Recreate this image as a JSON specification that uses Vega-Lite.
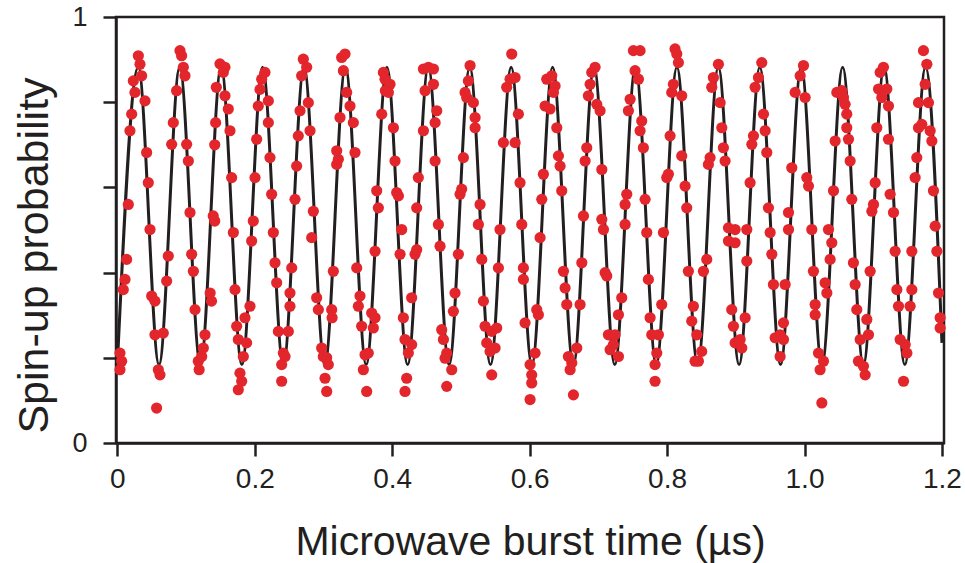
{
 "$schema": "https://vega.github.io/schema/vega-lite/v6.json",
 "width": 828,
 "height": 426,
 "autosize": {"type": "none"},
 "padding": {"left": 116, "top": 17, "right": 21, "bottom": 120},
 "background": "white",
 "config": {
  "axis": {"labelFont": "Liberation Sans", "titleFont": "Liberation Sans", "titleFontWeight": "normal", "domainColor": "#231f20", "tickColor": "#231f20", "labelColor": "#231f20", "titleColor": "#231f20", "grid": false, "domainWidth": 2.5, "tickWidth": 2.5, "labelFlush": false, "labelBound": false, "labelOverlap": false},
  "view": {"stroke": "#231f20", "strokeWidth": 2.5}
 },
 "layer": [
  {
   "data": {"name": "fit"},
   "mark": {"type": "line", "interpolate": "monotone", "color": "#231f20", "strokeWidth": 3},
   "encoding": {
    "x": {"field": "t", "type": "quantitative", "scale": {"domain": [-0.002, 1.203], "nice": false, "zero": false},
     "axis": {"title": "Microwave burst time (µs)", "values": [0, 0.2, 0.4, 0.6, 0.8, 1.0, 1.2], "labelExpr": "datum.value == 0 ? '0' : format(datum.value, '.1f')", "tickSize": 13, "labelFontSize": 28, "labelPadding": 9, "titleFontSize": 41, "titleY": 111, "titleBaseline": "alphabetic"}},
    "y": {"field": "p", "type": "quantitative", "scale": {"domain": [0, 1], "nice": false, "zero": false},
     "axis": {"title": "Spin-up probability", "values": [0, 0.2, 0.4, 0.6, 0.8, 1], "labelExpr": "datum.value == 0 ? '0' : (datum.value == 1 ? '1' : '')", "tickSize": 13, "labelFontSize": 27, "labelPadding": 16, "titleFontSize": 43, "titleX": -82, "titleY": 238, "titleAngle": -90, "titleAlign": "center", "titleBaseline": "middle"}}
   }
  },
  {
   "data": {"name": "dots"},
   "mark": {"type": "circle", "color": "#e3262b", "size": 125, "opacity": 1},
   "encoding": {
    "x": {"field": "t", "type": "quantitative"},
    "y": {"field": "p", "type": "quantitative"}
   }
  }
 ],
 "datasets": {
  "fit": [
   {"t": 0, "p": 0.184}, {"t": 0.0304, "p": 0.882}, {"t": 0.0606, "p": 0.184}, {"t": 0.0907, "p": 0.882}, {"t": 0.1209, "p": 0.184},
   {"t": 0.151, "p": 0.882}, {"t": 0.1812, "p": 0.184}, {"t": 0.2113, "p": 0.882}, {"t": 0.2415, "p": 0.184}, {"t": 0.2716, "p": 0.882},
   {"t": 0.3018, "p": 0.184}, {"t": 0.3319, "p": 0.882}, {"t": 0.3621, "p": 0.184}, {"t": 0.3922, "p": 0.882}, {"t": 0.4224, "p": 0.184},
   {"t": 0.4525, "p": 0.882}, {"t": 0.4827, "p": 0.184}, {"t": 0.5128, "p": 0.882}, {"t": 0.543, "p": 0.184}, {"t": 0.5731, "p": 0.882},
   {"t": 0.6033, "p": 0.184}, {"t": 0.6334, "p": 0.882}, {"t": 0.6636, "p": 0.184}, {"t": 0.6937, "p": 0.882}, {"t": 0.7239, "p": 0.184},
   {"t": 0.754, "p": 0.882}, {"t": 0.7842, "p": 0.184}, {"t": 0.8143, "p": 0.882}, {"t": 0.8445, "p": 0.184}, {"t": 0.8746, "p": 0.882},
   {"t": 0.9048, "p": 0.184}, {"t": 0.9349, "p": 0.882}, {"t": 0.9651, "p": 0.184}, {"t": 0.9952, "p": 0.882}, {"t": 1.0254, "p": 0.184},
   {"t": 1.0555, "p": 0.882}, {"t": 1.0857, "p": 0.184}, {"t": 1.1158, "p": 0.882}, {"t": 1.146, "p": 0.184}, {"t": 1.1761, "p": 0.882},
   {"t": 1.2, "p": 0.235}
  ],
  "dots": [
   {"t": 0.0038, "p": 0.211}, {"t": 0.0062, "p": 0.192}, {"t": 0.0038, "p": 0.172}, {"t": 0.0086, "p": 0.36}, {"t": 0.0111, "p": 0.384},
   {"t": 0.0135, "p": 0.431}, {"t": 0.0159, "p": 0.56}, {"t": 0.0183, "p": 0.733}, {"t": 0.0208, "p": 0.772}, {"t": 0.0232, "p": 0.85},
   {"t": 0.0256, "p": 0.823}, {"t": 0.0305, "p": 0.909}, {"t": 0.0329, "p": 0.889}, {"t": 0.0353, "p": 0.862}, {"t": 0.0402, "p": 0.803},
   {"t": 0.0426, "p": 0.682}, {"t": 0.045, "p": 0.611}, {"t": 0.0475, "p": 0.501}, {"t": 0.0499, "p": 0.345}, {"t": 0.0547, "p": 0.333},
   {"t": 0.0547, "p": 0.254}, {"t": 0.0596, "p": 0.172}, {"t": 0.062, "p": 0.16}, {"t": 0.0571, "p": 0.082}, {"t": 0.0668, "p": 0.258},
   {"t": 0.0717, "p": 0.38}, {"t": 0.0741, "p": 0.439}, {"t": 0.079, "p": 0.701}, {"t": 0.0814, "p": 0.752}, {"t": 0.0862, "p": 0.827},
   {"t": 0.0911, "p": 0.921}, {"t": 0.0935, "p": 0.909}, {"t": 0.096, "p": 0.882}, {"t": 0.0984, "p": 0.862}, {"t": 0.1008, "p": 0.701},
   {"t": 0.1033, "p": 0.662}, {"t": 0.1057, "p": 0.541}, {"t": 0.1081, "p": 0.443}, {"t": 0.1106, "p": 0.403}, {"t": 0.113, "p": 0.313},
   {"t": 0.1178, "p": 0.192}, {"t": 0.119, "p": 0.172}, {"t": 0.1227, "p": 0.203}, {"t": 0.1251, "p": 0.223}, {"t": 0.1275, "p": 0.254},
   {"t": 0.135, "p": 0.352}, {"t": 0.137, "p": 0.333}, {"t": 0.1395, "p": 0.533}, {"t": 0.1417, "p": 0.521}, {"t": 0.1417, "p": 0.7},
   {"t": 0.143, "p": 0.752}, {"t": 0.144, "p": 0.835}, {"t": 0.1493, "p": 0.89}, {"t": 0.1566, "p": 0.882}, {"t": 0.1541, "p": 0.87},
   {"t": 0.1566, "p": 0.815}, {"t": 0.1614, "p": 0.784}, {"t": 0.1639, "p": 0.733}, {"t": 0.1663, "p": 0.623}, {"t": 0.1688, "p": 0.494},
   {"t": 0.1712, "p": 0.36}, {"t": 0.1736, "p": 0.274}, {"t": 0.176, "p": 0.243}, {"t": 0.1784, "p": 0.164}, {"t": 0.1809, "p": 0.145},
   {"t": 0.176, "p": 0.125}, {"t": 0.1833, "p": 0.203}, {"t": 0.1881, "p": 0.235}, {"t": 0.1857, "p": 0.294}, {"t": 0.193, "p": 0.321},
   {"t": 0.1954, "p": 0.474}, {"t": 0.1978, "p": 0.521}, {"t": 0.2003, "p": 0.623}, {"t": 0.2027, "p": 0.713}, {"t": 0.2051, "p": 0.791},
   {"t": 0.2076, "p": 0.83}, {"t": 0.21, "p": 0.854}, {"t": 0.2148, "p": 0.87}, {"t": 0.2197, "p": 0.803}, {"t": 0.2197, "p": 0.752},
   {"t": 0.2221, "p": 0.67}, {"t": 0.2245, "p": 0.584}, {"t": 0.227, "p": 0.494}, {"t": 0.2294, "p": 0.423}, {"t": 0.2318, "p": 0.376},
   {"t": 0.2343, "p": 0.262}, {"t": 0.2488, "p": 0.262}, {"t": 0.2415, "p": 0.211}, {"t": 0.244, "p": 0.203}, {"t": 0.2391, "p": 0.184},
   {"t": 0.2391, "p": 0.145}, {"t": 0.2512, "p": 0.352}, {"t": 0.2512, "p": 0.321}, {"t": 0.2537, "p": 0.411}, {"t": 0.2585, "p": 0.572},
   {"t": 0.2609, "p": 0.65}, {"t": 0.2633, "p": 0.721}, {"t": 0.2658, "p": 0.78}, {"t": 0.2682, "p": 0.862}, {"t": 0.2706, "p": 0.901},
   {"t": 0.2755, "p": 0.882}, {"t": 0.2779, "p": 0.799}, {"t": 0.2804, "p": 0.733}, {"t": 0.2852, "p": 0.544}, {"t": 0.2828, "p": 0.482},
   {"t": 0.29, "p": 0.341}, {"t": 0.2925, "p": 0.313}, {"t": 0.2973, "p": 0.223}, {"t": 0.2997, "p": 0.203}, {"t": 0.3046, "p": 0.2},
   {"t": 0.307, "p": 0.184}, {"t": 0.3022, "p": 0.152}, {"t": 0.3046, "p": 0.121}, {"t": 0.3119, "p": 0.313}, {"t": 0.3125, "p": 0.294},
   {"t": 0.3143, "p": 0.403}, {"t": 0.3192, "p": 0.654}, {"t": 0.3216, "p": 0.666}, {"t": 0.3192, "p": 0.686}, {"t": 0.324, "p": 0.764},
   {"t": 0.3264, "p": 0.905}, {"t": 0.3313, "p": 0.913}, {"t": 0.3289, "p": 0.874}, {"t": 0.3337, "p": 0.823}, {"t": 0.3386, "p": 0.791},
   {"t": 0.3434, "p": 0.752}, {"t": 0.3458, "p": 0.682}, {"t": 0.3483, "p": 0.411}, {"t": 0.3531, "p": 0.345}, {"t": 0.3507, "p": 0.321},
   {"t": 0.3555, "p": 0.274}, {"t": 0.3604, "p": 0.207}, {"t": 0.3652, "p": 0.211}, {"t": 0.358, "p": 0.172}, {"t": 0.3628, "p": 0.121},
   {"t": 0.3701, "p": 0.305}, {"t": 0.375, "p": 0.294}, {"t": 0.3725, "p": 0.27}, {"t": 0.375, "p": 0.45}, {"t": 0.3798, "p": 0.552},
   {"t": 0.3774, "p": 0.592}, {"t": 0.3847, "p": 0.772}, {"t": 0.3871, "p": 0.87}, {"t": 0.3895, "p": 0.854}, {"t": 0.39, "p": 0.827},
   {"t": 0.3968, "p": 0.842}, {"t": 0.3944, "p": 0.823}, {"t": 0.4017, "p": 0.74}, {"t": 0.4041, "p": 0.662}, {"t": 0.4065, "p": 0.588},
   {"t": 0.409, "p": 0.58}, {"t": 0.4138, "p": 0.501}, {"t": 0.4114, "p": 0.443}, {"t": 0.4162, "p": 0.294}, {"t": 0.4186, "p": 0.243},
   {"t": 0.4235, "p": 0.211}, {"t": 0.421, "p": 0.152}, {"t": 0.4186, "p": 0.121}, {"t": 0.4283, "p": 0.231}, {"t": 0.4283, "p": 0.341},
   {"t": 0.4332, "p": 0.443}, {"t": 0.4356, "p": 0.454}, {"t": 0.4356, "p": 0.552}, {"t": 0.438, "p": 0.623},
   {"t": 0.4454, "p": 0.733}, {"t": 0.4454, "p": 0.878}, {"t": 0.4527, "p": 0.882}, {"t": 0.46, "p": 0.878}, {"t": 0.4478, "p": 0.827},
   {"t": 0.46, "p": 0.842}, {"t": 0.4648, "p": 0.78}, {"t": 0.4624, "p": 0.752}, {"t": 0.4624, "p": 0.662}, {"t": 0.4672, "p": 0.513},
   {"t": 0.4696, "p": 0.462}, {"t": 0.472, "p": 0.266}, {"t": 0.4745, "p": 0.243}, {"t": 0.4793, "p": 0.211}, {"t": 0.4866, "p": 0.172},
   {"t": 0.4769, "p": 0.199}, {"t": 0.4793, "p": 0.133}, {"t": 0.489, "p": 0.309}, {"t": 0.4914, "p": 0.352}, {"t": 0.4963, "p": 0.443},
   {"t": 0.4987, "p": 0.584}, {"t": 0.5011, "p": 0.596}, {"t": 0.5036, "p": 0.67}, {"t": 0.5084, "p": 0.811}, {"t": 0.506, "p": 0.823},
   {"t": 0.5108, "p": 0.85}, {"t": 0.5133, "p": 0.886}, {"t": 0.5181, "p": 0.799}, {"t": 0.5206, "p": 0.764}, {"t": 0.5206, "p": 0.74},
   {"t": 0.5278, "p": 0.56}, {"t": 0.5254, "p": 0.513}, {"t": 0.5303, "p": 0.431}, {"t": 0.5327, "p": 0.333}, {"t": 0.5351, "p": 0.274},
   {"t": 0.5375, "p": 0.235}, {"t": 0.5424, "p": 0.215}, {"t": 0.5448, "p": 0.262}, {"t": 0.5521, "p": 0.27}, {"t": 0.5497, "p": 0.223},
   {"t": 0.5448, "p": 0.16}, {"t": 0.5545, "p": 0.411}, {"t": 0.5569, "p": 0.501}, {"t": 0.5618, "p": 0.705}, {"t": 0.5666, "p": 0.835},
   {"t": 0.5715, "p": 0.854}, {"t": 0.5788, "p": 0.858}, {"t": 0.5739, "p": 0.913}, {"t": 0.5788, "p": 0.705}, {"t": 0.5836, "p": 0.772},
   {"t": 0.586, "p": 0.611}, {"t": 0.5885, "p": 0.513}, {"t": 0.5909, "p": 0.411}, {"t": 0.5909, "p": 0.384}, {"t": 0.5933, "p": 0.282},
   {"t": 0.6006, "p": 0.184}, {"t": 0.603, "p": 0.16}, {"t": 0.603, "p": 0.141}, {"t": 0.6006, "p": 0.102}, {"t": 0.6079, "p": 0.211},
   {"t": 0.6103, "p": 0.313}, {"t": 0.6127, "p": 0.301}, {"t": 0.6152, "p": 0.482}, {"t": 0.6176, "p": 0.572}, {"t": 0.62, "p": 0.631},
   {"t": 0.6225, "p": 0.791}, {"t": 0.6249, "p": 0.854}, {"t": 0.6322, "p": 0.862}, {"t": 0.637, "p": 0.838}, {"t": 0.6346, "p": 0.823},
   {"t": 0.6297, "p": 0.784}, {"t": 0.6395, "p": 0.74}, {"t": 0.6419, "p": 0.674}, {"t": 0.6443, "p": 0.65}, {"t": 0.6467, "p": 0.592},
   {"t": 0.6492, "p": 0.403}, {"t": 0.6516, "p": 0.364}, {"t": 0.654, "p": 0.325}, {"t": 0.6564, "p": 0.203}, {"t": 0.6613, "p": 0.188},
   {"t": 0.6589, "p": 0.172}, {"t": 0.6686, "p": 0.223}, {"t": 0.6637, "p": 0.113}, {"t": 0.6734, "p": 0.325}, {"t": 0.6759, "p": 0.423},
   {"t": 0.6783, "p": 0.533}, {"t": 0.6807, "p": 0.662}, {"t": 0.6831, "p": 0.693}, {"t": 0.6855, "p": 0.815}, {"t": 0.688, "p": 0.842},
   {"t": 0.6904, "p": 0.87}, {"t": 0.6952, "p": 0.882}, {"t": 0.6977, "p": 0.795}, {"t": 0.7025, "p": 0.78}, {"t": 0.705, "p": 0.642},
   {"t": 0.705, "p": 0.525}, {"t": 0.7074, "p": 0.501}, {"t": 0.7098, "p": 0.4}, {"t": 0.7122, "p": 0.392}, {"t": 0.7146, "p": 0.254},
   {"t": 0.7243, "p": 0.254}, {"t": 0.7171, "p": 0.219}, {"t": 0.7292, "p": 0.203}, {"t": 0.7219, "p": 0.231}, {"t": 0.7292, "p": 0.301},
   {"t": 0.734, "p": 0.341}, {"t": 0.7389, "p": 0.513}, {"t": 0.7389, "p": 0.56}, {"t": 0.7413, "p": 0.584}, {"t": 0.7437, "p": 0.78},
   {"t": 0.7462, "p": 0.807},
   {"t": 0.751, "p": 0.921}, {"t": 0.7607, "p": 0.921}, {"t": 0.7534, "p": 0.874}, {"t": 0.7583, "p": 0.854}, {"t": 0.7631, "p": 0.756},
   {"t": 0.7607, "p": 0.733}, {"t": 0.7655, "p": 0.693}, {"t": 0.768, "p": 0.572}, {"t": 0.7704, "p": 0.494}, {"t": 0.7728, "p": 0.384},
   {"t": 0.7753, "p": 0.294}, {"t": 0.7777, "p": 0.254}, {"t": 0.7874, "p": 0.254}, {"t": 0.785, "p": 0.211}, {"t": 0.7825, "p": 0.184},
   {"t": 0.7825, "p": 0.145}, {"t": 0.7922, "p": 0.325}, {"t": 0.7947, "p": 0.494}, {"t": 0.7995, "p": 0.623}, {"t": 0.8019, "p": 0.631},
   {"t": 0.8044, "p": 0.721}, {"t": 0.8068, "p": 0.823}, {"t": 0.8092, "p": 0.842}, {"t": 0.8116, "p": 0.925}, {"t": 0.8141, "p": 0.913},
   {"t": 0.8165, "p": 0.893}, {"t": 0.8213, "p": 0.815}, {"t": 0.8213, "p": 0.674}, {"t": 0.8262, "p": 0.603}, {"t": 0.8286, "p": 0.552},
   {"t": 0.831, "p": 0.403}, {"t": 0.8383, "p": 0.321}, {"t": 0.8359, "p": 0.286}, {"t": 0.8432, "p": 0.254}, {"t": 0.8407, "p": 0.192},
   {"t": 0.8504, "p": 0.215}, {"t": 0.8456, "p": 0.192}, {"t": 0.8529, "p": 0.403}, {"t": 0.8577, "p": 0.431}, {"t": 0.8601, "p": 0.654},
   {"t": 0.8626, "p": 0.67}, {"t": 0.865, "p": 0.835}, {"t": 0.8674, "p": 0.858}, {"t": 0.8747, "p": 0.889}, {"t": 0.8772, "p": 0.799},
   {"t": 0.8796, "p": 0.74}, {"t": 0.882, "p": 0.693}, {"t": 0.8844, "p": 0.662}, {"t": 0.8893, "p": 0.505}, {"t": 0.8893, "p": 0.474},
   {"t": 0.8941, "p": 0.313}, {"t": 0.8966, "p": 0.274}, {"t": 0.899, "p": 0.235},
   {"t": 0.899, "p": 0.501}, {"t": 0.899, "p": 0.47}, {"t": 0.9063, "p": 0.243}, {"t": 0.9087, "p": 0.223}, {"t": 0.9136, "p": 0.294},
   {"t": 0.916, "p": 0.427}, {"t": 0.916, "p": 0.501}, {"t": 0.9208, "p": 0.611}, {"t": 0.9233, "p": 0.701}, {"t": 0.9257, "p": 0.721},
   {"t": 0.9281, "p": 0.835}, {"t": 0.933, "p": 0.858}, {"t": 0.9378, "p": 0.893}, {"t": 0.9403, "p": 0.772}, {"t": 0.9427, "p": 0.733},
   {"t": 0.9451, "p": 0.682}, {"t": 0.9475, "p": 0.552}, {"t": 0.95, "p": 0.494}, {"t": 0.9524, "p": 0.443}, {"t": 0.9548, "p": 0.372},
   {"t": 0.9718, "p": 0.372}, {"t": 0.9573, "p": 0.247}, {"t": 0.9645, "p": 0.254}, {"t": 0.9694, "p": 0.243}, {"t": 0.9645, "p": 0.203},
   {"t": 0.9694, "p": 0.282}, {"t": 0.9767, "p": 0.501}, {"t": 0.9767, "p": 0.541}, {"t": 0.9815, "p": 0.646}, {"t": 0.9864, "p": 0.823},
   {"t": 0.9937, "p": 0.862}, {"t": 0.9985, "p": 0.886}, {"t": 1.0009, "p": 0.811}, {"t": 1.0033, "p": 0.623}, {"t": 1.0058, "p": 0.603},
   {"t": 1.0106, "p": 0.501}, {"t": 1.013, "p": 0.403}, {"t": 1.0155, "p": 0.325}, {"t": 1.0155, "p": 0.301}, {"t": 1.0203, "p": 0.211},
   {"t": 1.0276, "p": 0.192}, {"t": 1.0227, "p": 0.172}, {"t": 1.0252, "p": 0.094}, {"t": 1.03, "p": 0.376}, {"t": 1.0325, "p": 0.352},
   {"t": 1.0349, "p": 0.501}, {"t": 1.0397, "p": 0.47}, {"t": 1.0373, "p": 0.431}, {"t": 1.0422, "p": 0.592}, {"t": 1.0446, "p": 0.709},
   {"t": 1.047, "p": 0.823},
   {"t": 1.0542, "p": 0.827}, {"t": 1.0567, "p": 0.811}, {"t": 1.0591, "p": 0.795}, {"t": 1.0615, "p": 0.772}, {"t": 1.0615, "p": 0.74},
   {"t": 1.064, "p": 0.713}, {"t": 1.0664, "p": 0.662}, {"t": 1.0688, "p": 0.572}, {"t": 1.0712, "p": 0.423}, {"t": 1.0737, "p": 0.372},
   {"t": 1.0761, "p": 0.313}, {"t": 1.081, "p": 0.243}, {"t": 1.0785, "p": 0.192}, {"t": 1.0858, "p": 0.18}, {"t": 1.0883, "p": 0.16},
   {"t": 1.0907, "p": 0.29}, {"t": 1.0931, "p": 0.254}, {"t": 1.0955, "p": 0.403}, {"t": 1.098, "p": 0.544}, {"t": 1.1004, "p": 0.56},
   {"t": 1.1028, "p": 0.611}, {"t": 1.1052, "p": 0.74}, {"t": 1.1077, "p": 0.831}, {"t": 1.1101, "p": 0.87}, {"t": 1.1149, "p": 0.882},
   {"t": 1.1198, "p": 0.831}, {"t": 1.1125, "p": 0.811}, {"t": 1.1222, "p": 0.791}, {"t": 1.1222, "p": 0.713}, {"t": 1.1246, "p": 0.584},
   {"t": 1.1295, "p": 0.541}, {"t": 1.1319, "p": 0.45}, {"t": 1.1344, "p": 0.36}, {"t": 1.1368, "p": 0.321}, {"t": 1.1392, "p": 0.243},
   {"t": 1.1465, "p": 0.231}, {"t": 1.149, "p": 0.211}, {"t": 1.1441, "p": 0.145}, {"t": 1.1537, "p": 0.321}, {"t": 1.1562, "p": 0.36},
   {"t": 1.1562, "p": 0.45}, {"t": 1.161, "p": 0.623}, {"t": 1.1634, "p": 0.67}, {"t": 1.1659, "p": 0.74}, {"t": 1.1707, "p": 0.748},
   {"t": 1.1659, "p": 0.799}, {"t": 1.1804, "p": 0.799}, {"t": 1.1756, "p": 0.842}, {"t": 1.178, "p": 0.889}, {"t": 1.1731, "p": 0.921},
   {"t": 1.1829, "p": 0.733}, {"t": 1.1853, "p": 0.709}, {"t": 1.1877, "p": 0.592}, {"t": 1.1902, "p": 0.509}, {"t": 1.1926, "p": 0.45},
   {"t": 1.195, "p": 0.352}, {"t": 1.1974, "p": 0.294}, {"t": 1.1974, "p": 0.27}
  ]
 }
}
